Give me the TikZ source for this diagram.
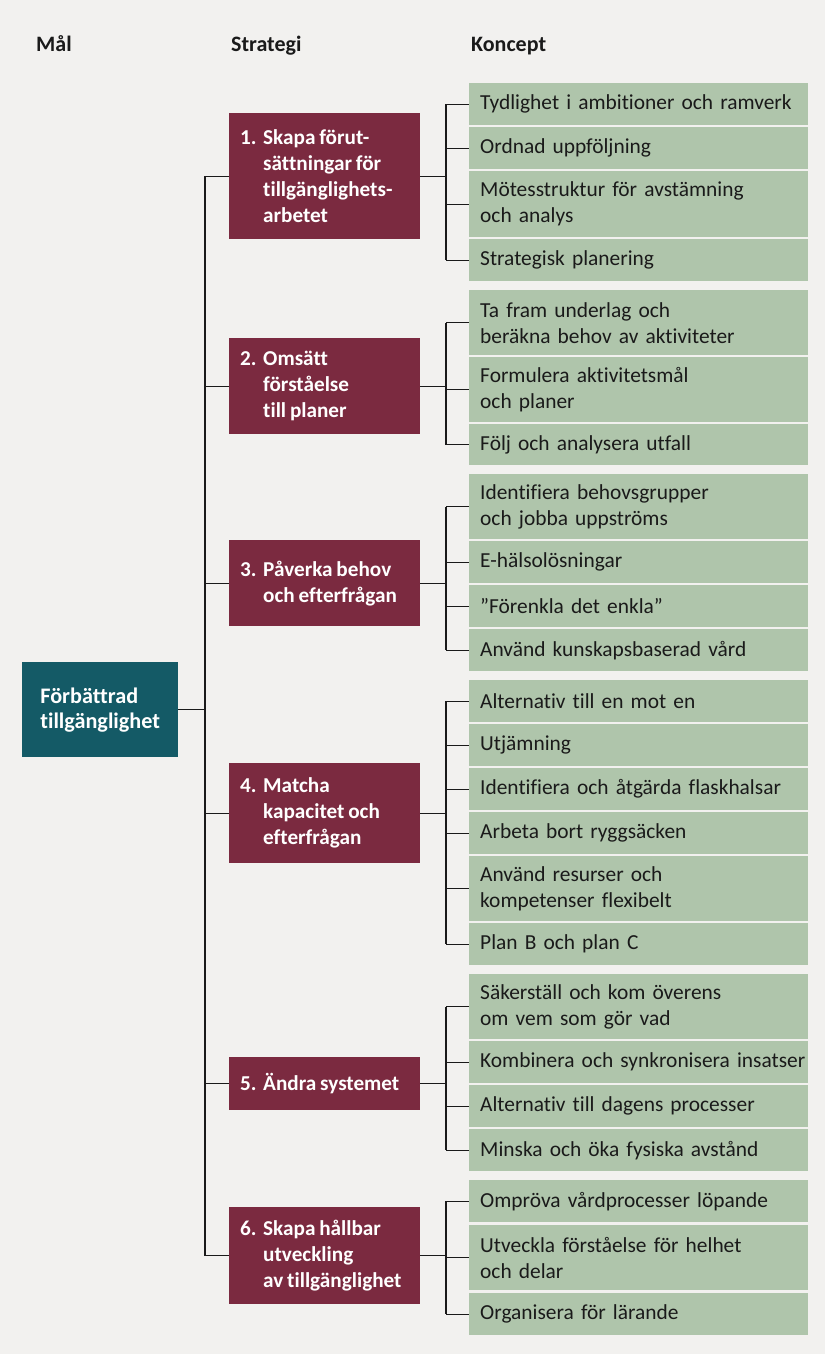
\documentclass[tikz,border=0pt]{standalone}
\usepackage{fontspec}
\setmainfont{Carlito}[Ligatures=CommonOff, WordSpace=0.8]
\definecolor{bgc}{HTML}{F2F1EF}
\definecolor{redc}{HTML}{7B2A40}
\definecolor{tealc}{HTML}{145A66}
\definecolor{greenc}{HTML}{AFC5AB}
\definecolor{inkc}{HTML}{1A1A1A}
\tikzset{
  gbox/.style={fill=greenc, anchor=north west, minimum width=339, text width=317, inner xsep=11, inner ysep=0, align=left, text=inkc, font=\fontsize{21.4}{26}\selectfont},
  rbox/.style={fill=redc, anchor=north west, minimum width=191, inner xsep=11, inner ysep=0, text=white, font=\bfseries\fontsize{21.2}{26}\selectfont},
  tbox/.style={fill=tealc, anchor=north west, minimum width=156, inner xsep=0, inner ysep=0, align=left, text=white, font=\bfseries\fontsize{22.2}{25}\selectfont},
  hdr/.style={anchor=base west, inner sep=0, text=inkc, font=\bfseries\fontsize{22}{24}\selectfont},
  conn/.style={draw=inkc, line width=1.3}
}
\newcommand\stratext[2]{\parbox{169pt}{\hangindent=23pt\hangafter=1\noindent\makebox[23pt][l]{#1}#2}}
\newcommand\gnode[4]{\node[gbox, minimum height=#3] (#1) at (469,#2) {#4};}
\newcommand\rnode[4]{\node[rbox, minimum height=#3] (#1) at (229,#2) {#4};}
\begin{document}
\begin{tikzpicture}[x=1pt,y=-1pt]
\useasboundingbox (0,0) rectangle (825,1354);
\fill[bgc] (0,0) rectangle (825,1354);
\coordinate (sp) at (205,0);
\coordinate (bk) at (446,0);
% headers
\node[hdr] (h1) at (36,52) {Mål};
\node[hdr] (h2) at (231,52) {Strategi};
\node[hdr] (h3) at (471,52) {Koncept};
% goal
\node[tbox, minimum height=95] (goal) at (22,662) {Förbättrad\\tillgänglighet};
% strategies
\rnode{r1}{113}{126}{\stratext{1.}{Skapa förut-\\sättningar för\\tillgänglighets-\\arbetet}}
\rnode{r2}{338}{96}{\stratext{2.}{Omsätt\\förståelse\\till planer}}
\rnode{r3}{540}{86}{\stratext{3.}{Påverka behov\\och efterfrågan}}
\rnode{r4}{763}{100}{\stratext{4.}{Matcha\\kapacitet och\\efterfrågan}}
\rnode{r5}{1057}{53}{\stratext{5.}{Ändra systemet}}
\rnode{r6}{1207}{97}{\stratext{6.}{Skapa hållbar\\utveckling\\av tillgänglighet}}
% concepts group 1
\gnode{c11}{83}{42}{\mbox{Tydlighet i ambitioner och ramverk}}
\gnode{c12}{127}{42}{Ordnad uppföljning}
\gnode{c13}{171}{66}{Mötesstruktur för avstämning\\och analys}
\gnode{c14}{239}{42}{Strategisk planering}
% group 2
\gnode{c21}{290}{65}{Ta fram underlag och\\beräkna behov av aktiviteter}
\gnode{c22}{357}{65}{Formulera aktivitetsmål\\och planer}
\gnode{c23}{424}{41}{Följ och analysera utfall}
% group 3
\gnode{c31}{474}{65}{Identifiera behovsgrupper\\och jobba uppströms}
\gnode{c32}{541}{42}{E-hälsolösningar}
\gnode{c33}{585}{42}{”Förenkla det enkla”}
\gnode{c34}{629}{42}{Använd kunskapsbaserad vård}
% group 4
\gnode{c41}{680}{42}{Alternativ till en mot en}
\gnode{c42}{724}{42}{Utjämning}
\gnode{c43}{768}{42}{\mbox{Identifiera och åtgärda flaskhalsar}}
\gnode{c44}{812}{42}{Arbeta bort ryggsäcken}
\gnode{c45}{856}{65}{Använd resurser och\\kompetenser flexibelt}
\gnode{c46}{923}{42}{Plan B och plan C}
% group 5
\gnode{c51}{974}{65}{Säkerställ och kom överens\\om vem som gör vad}
\gnode{c52}{1041}{42}{\mbox{Kombinera och synkronisera insatser}}
\gnode{c53}{1085}{42}{Alternativ till dagens processer}
\gnode{c54}{1129}{42}{Minska och öka fysiska avstånd}
% group 6
\gnode{c61}{1180}{42}{Ompröva vårdprocesser löpande}
\gnode{c62}{1225}{65}{Utveckla förståelse för helhet\\och delar}
\gnode{c63}{1293}{42}{Organisera för lärande}
% spine
\draw[conn] (goal.east) -- (goal.east -| sp);
\draw[conn] (r1.west -| sp) -- (r6.west -| sp);
\foreach \r in {r1,r2,r3,r4,r5,r6} {
  \draw[conn] (\r.west -| sp) -- (\r.west);
  \draw[conn] (\r.east) -- (\r.east -| bk);
}
% brackets
\draw[conn] (c11.west -| bk) -- (c14.west -| bk);
\draw[conn] (c21.west -| bk) -- (c23.west -| bk);
\draw[conn] (c31.west -| bk) -- (c34.west -| bk);
\draw[conn] (c41.west -| bk) -- (c46.west -| bk);
\draw[conn] (c51.west -| bk) -- (c54.west -| bk);
\draw[conn] (c61.west -| bk) -- (c63.west -| bk);
\foreach \c in {c11,c12,c13,c14,c21,c22,c23,c31,c32,c33,c34,c41,c42,c43,c44,c45,c46,c51,c52,c53,c54,c61,c62,c63} {
  \draw[conn] (\c.west -| bk) -- (\c.west);
}
\end{tikzpicture}
\end{document}
